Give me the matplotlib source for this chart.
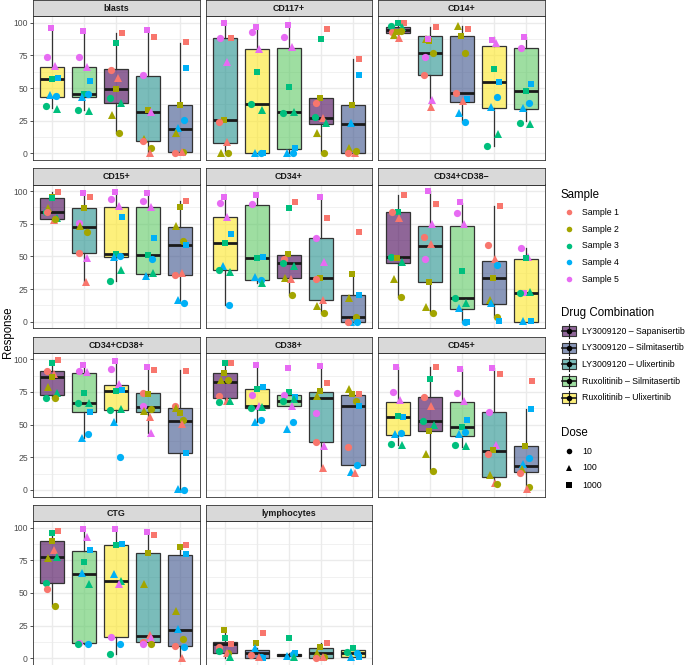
import matplotlib.pyplot as plt
from matplotlib.colors import to_rgba
from matplotlib.patches import Rectangle
import numpy as np

plt.rcParams['font.family'] = ['Liberation Sans', 'DejaVu Sans']

combos = ['LY3009120 – Sapanisertib', 'LY3009120 – Silmitasertib', 'LY3009120 – Ulixertinib',
          'Ruxolitinib – Silmitasertib', 'Ruxolitinib – Ulixertinib']
combo_colors = ['#440154', '#3B528B', '#21908C', '#5DC863', '#FDE725']
samples = ['Sample 1', 'Sample 2', 'Sample 3', 'Sample 4', 'Sample 5']
sample_colors = ['#F8766D', '#A3A500', '#00BF7D', '#00B0F6', '#E76BF3']
doses = [10, 100, 1000]
dose_markers = ['o', '^', 's']
panel_names = ['blasts', 'CD117+', 'CD14+', 'CD15+', 'CD34+', 'CD34+CD38−',
               'CD34+CD38+', 'CD38+', 'CD45+', 'CTG', 'lymphocytes']

# each panel: combo index per x slot, box stats [whislo, q1, med, q3, whishi], points (slot, sample, dose, value)
blasts_order = [4, 3, 0, 2, 1]
blasts_box = [[34.4, 43.4, 56.9, 66.3, 94.9], [33.2, 42.9, 45.4, 65.8, 93.1], [15.8, 38.5, 49.5, 64.3, 91.8],
              [0.0, 9.4, 31.4, 59.2, 93.9], [0.0, 1.3, 18.4, 36.7, 84.7]]
blasts_pts = [(1, 5, 1000, 95.7), (1, 5, 10, 73.5), (1, 5, 100, 67.1), (1, 3, 1000, 56.9), (1, 4, 1000, 57.4),
              (1, 4, 10, 44.1), (1, 4, 100, 44.5), (1, 3, 10, 36.2), (1, 3, 100, 33.7),
              (2, 5, 1000, 93.4), (2, 5, 10, 73.5), (2, 5, 100, 66.3), (2, 4, 1000, 55.4), (2, 3, 1000, 45.2),
              (2, 4, 10, 45.2), (2, 4, 100, 43.4), (2, 3, 100, 32.7), (2, 3, 10, 33.2),
              (3, 1, 1000, 91.8), (3, 3, 1000, 84.7), (3, 1, 10, 63.8), (3, 1, 100, 57.9), (3, 2, 1000, 49.2),
              (3, 3, 10, 42.6), (3, 3, 100, 38.8), (3, 2, 100, 29.3), (3, 2, 10, 15.8),
              (4, 5, 1000, 94.4), (4, 1, 1000, 89.3), (4, 5, 10, 59.7), (4, 2, 1000, 33.2), (4, 5, 100, 31.9),
              (4, 2, 100, 10.7), (4, 1, 10, 9.7), (4, 2, 10, 4.3), (4, 1, 100, 0.5),
              (5, 1, 1000, 85.5), (5, 4, 1000, 65.0), (5, 2, 1000, 37.0), (5, 4, 10, 25.5), (5, 4, 100, 19.1),
              (5, 2, 100, 15.8), (5, 2, 10, 1.3), (5, 1, 10, 0.0), (5, 1, 100, 0.8)]

cd117_order = [2, 4, 3, 0, 1]
cd117_box = [[0.0, 8.2, 25.5, 88.0, 100.0], [0.0, 0.0, 38.0, 79.6, 96.4], [0.0, 3.3, 31.4, 80.4, 98.5],
             [0.0, 22.4, 26.8, 42.6, 42.6], [0.0, 0.0, 22.4, 36.7, 71.9]]
cd117_pts = [(1, 5, 1000, 100.0), (1, 1, 1000, 88.5), (1, 5, 10, 88.5), (1, 5, 100, 70.2), (1, 2, 1000, 25.5),
             (1, 1, 10, 23.7), (1, 1, 100, 8.9), (1, 2, 100, 0.5), (1, 2, 10, 0.0),
             (2, 5, 1000, 96.4), (2, 5, 10, 92.9), (2, 5, 100, 80.1), (2, 3, 1000, 62.5), (2, 3, 10, 38.0),
             (2, 3, 100, 33.2), (2, 4, 10, 0.0), (2, 4, 100, 0.0), (2, 4, 1000, 0.0),
             (3, 5, 1000, 98.5), (3, 5, 10, 88.8), (3, 5, 100, 81.1), (3, 3, 1000, 50.5), (3, 3, 100, 31.4),
             (3, 3, 10, 30.6), (3, 4, 1000, 3.8), (3, 4, 10, 0.0), (3, 4, 100, 0.0),
             (4, 1, 1000, 94.9), (4, 3, 1000, 87.2), (4, 2, 1000, 42.6), (4, 1, 10, 38.3), (4, 3, 10, 27.6),
             (4, 1, 100, 26.8), (4, 3, 100, 23.0), (4, 2, 100, 15.8), (4, 2, 10, 0.0),
             (5, 1, 1000, 71.9), (5, 4, 1000, 59.9), (5, 2, 1000, 36.7), (5, 4, 100, 23.5), (5, 2, 100, 3.8),
             (5, 1, 10, 0.5), (5, 1, 100, 0.0), (5, 2, 10, 2.0)]

cd14_order = [0, 2, 1, 4, 3]
cd14_box = [[88.0, 92.3, 94.4, 96.9, 100.0], [35.7, 59.9, 76.5, 89.8, 96.9], [24.2, 39.5, 46.4, 89.8, 97.4],
            [5.9, 34.9, 54.3, 82.1, 88.8], [25.0, 33.7, 48.0, 80.4, 88.8]]
cd14_pts = [(1, 1, 1000, 100.0), (1, 3, 1000, 99.5), (1, 3, 10, 97.4), (1, 1, 10, 93.1), (1, 2, 1000, 93.1),
            (1, 2, 100, 90.6), (1, 1, 100, 88.0), (1, 3, 100, 96.9), (1, 2, 10, 93.9),
            (2, 1, 1000, 96.9), (2, 2, 1000, 86.2), (2, 2, 100, 87.2), (2, 5, 1000, 87.2), (2, 2, 10, 76.5),
            (2, 5, 10, 74.0), (2, 1, 10, 60.2), (2, 5, 100, 40.8), (2, 1, 100, 35.7),
            (3, 2, 100, 97.4), (3, 1, 1000, 95.2), (3, 2, 1000, 90.1), (3, 2, 10, 76.5), (3, 1, 10, 45.9),
            (3, 4, 1000, 41.3), (3, 1, 100, 40.3), (3, 4, 100, 30.6), (3, 4, 10, 24.2),
            (4, 5, 1000, 86.7), (4, 5, 100, 84.2), (4, 3, 1000, 64.3), (4, 4, 1000, 54.3), (4, 4, 10, 43.4),
            (4, 4, 100, 35.7), (4, 3, 100, 14.8), (4, 3, 10, 5.9),
            (5, 5, 1000, 88.8), (5, 5, 10, 80.9), (5, 4, 1000, 53.1), (5, 3, 1000, 48.0), (5, 4, 10, 38.3),
            (5, 4, 100, 34.4), (5, 3, 10, 23.0), (5, 3, 100, 22.4)]

cd15_order = [0, 2, 4, 3, 1]
cd15_box = [[77.8, 78.3, 84.2, 94.4, 99.5], [30.6, 52.3, 72.7, 87.2, 98.2], [31.4, 49.2, 51.5, 87.5, 99.0],
            [35.2, 36.2, 51.0, 87.5, 98.2], [14.8, 35.7, 58.4, 72.7, 92.6]]
cd15_pts = [(1, 1, 1000, 99.5), (1, 2, 1000, 95.7), (1, 3, 1000, 94.4), (1, 2, 100, 87.2), (1, 3, 10, 83.7),
            (1, 1, 10, 84.2), (1, 3, 100, 79.1), (1, 1, 100, 77.8), (1, 2, 10, 78.3),
            (2, 5, 1000, 98.2), (2, 1, 1000, 95.2), (2, 2, 1000, 87.2), (2, 5, 10, 75.3), (2, 2, 100, 73.2),
            (2, 2, 10, 68.9), (2, 1, 10, 52.3), (2, 5, 100, 49.0), (2, 1, 100, 30.6),
            (3, 5, 1000, 99.0), (3, 5, 10, 93.9), (3, 5, 100, 88.8), (3, 4, 1000, 80.4), (3, 3, 1000, 51.8),
            (3, 4, 10, 50.3), (3, 4, 100, 49.7), (3, 3, 100, 39.5), (3, 3, 10, 31.4),
            (4, 5, 1000, 98.2), (4, 5, 10, 92.3), (4, 5, 100, 88.0), (4, 4, 1000, 63.8), (4, 3, 1000, 51.0),
            (4, 4, 10, 48.2), (4, 3, 100, 37.0), (4, 4, 100, 35.2),
            (5, 1, 1000, 92.6), (5, 2, 1000, 88.0), (5, 2, 100, 73.2), (5, 2, 10, 62.0), (5, 4, 1000, 58.7),
            (5, 1, 100, 37.0), (5, 1, 10, 35.7), (5, 4, 100, 16.6), (5, 4, 10, 14.0)]

cd34_order = [4, 3, 0, 2, 1]
cd34_box = [[12.8, 39.5, 59.9, 79.8, 95.2], [29.3, 31.9, 48.5, 89.3, 97.4], [20.4, 33.2, 44.6, 51.0, 51.0],
            [6.9, 16.6, 33.2, 64.3, 95.7], [0.0, 0.0, 3.3, 20.4, 36.5]]
cd34_pts = [(1, 5, 1000, 95.2), (1, 5, 10, 91.1), (1, 5, 100, 80.4), (1, 4, 1000, 67.1), (1, 3, 1000, 59.9),
            (1, 4, 100, 42.6), (1, 3, 10, 39.5), (1, 3, 100, 38.0), (1, 4, 10, 12.8),
            (2, 5, 1000, 96.9), (2, 5, 10, 89.8), (2, 3, 1000, 49.0), (2, 4, 1000, 49.2), (2, 4, 100, 33.9),
            (2, 4, 10, 31.9), (2, 3, 100, 29.3),
            (3, 1, 1000, 91.8), (3, 3, 1000, 86.7), (3, 2, 1000, 51.5), (3, 1, 10, 48.2), (3, 3, 10, 44.6),
            (3, 3, 100, 42.6), (3, 2, 100, 33.7), (3, 1, 100, 32.4), (3, 2, 10, 20.4),
            (4, 5, 1000, 95.7), (4, 1, 1000, 79.1), (4, 5, 10, 64.3), (4, 5, 100, 45.9), (4, 2, 1000, 33.2),
            (4, 1, 10, 32.4), (4, 1, 100, 16.6), (4, 2, 100, 12.2), (4, 2, 10, 6.9),
            (5, 1, 1000, 68.4), (5, 2, 1000, 36.5), (5, 4, 1000, 20.4), (5, 2, 100, 17.9), (5, 2, 10, 3.3),
            (5, 4, 100, 0.0), (5, 4, 10, 0.0), (5, 1, 10, 0.0)]

cd34m_order = [0, 2, 3, 1, 4]
cd34m_box = [[19.1, 45.2, 49.2, 83.7, 97.0], [6.9, 30.6, 58.2, 73.5, 100.0], [0.0, 9.7, 18.4, 73.5, 91.1],
             [3.8, 13.3, 33.7, 46.7, 88.5], [0.0, 0.0, 22.2, 48.0, 56.1]]
cd34m_pts = [(1, 1, 1000, 96.9), (1, 3, 1000, 84.2), (1, 1, 10, 83.7), (1, 1, 100, 79.1), (1, 3, 10, 49.2),
             (1, 2, 1000, 49.0), (1, 3, 100, 45.9), (1, 2, 100, 32.4), (1, 2, 10, 19.1),
             (2, 5, 1000, 100.0), (2, 1, 1000, 89.8), (2, 5, 100, 74.5), (2, 1, 10, 65.0), (2, 1, 100, 59.2),
             (2, 5, 10, 48.2), (2, 2, 1000, 30.6), (2, 2, 100, 11.0), (2, 2, 10, 6.9),
             (3, 5, 1000, 91.6), (3, 5, 10, 82.9), (3, 5, 100, 74.7), (3, 3, 1000, 38.8), (3, 3, 10, 18.4),
             (3, 3, 100, 14.5), (3, 4, 100, 10.2), (3, 4, 1000, 0.0), (3, 4, 10, 0.0),
             (4, 1, 1000, 88.5), (4, 1, 10, 58.4), (4, 1, 100, 47.7), (4, 4, 10, 43.6), (4, 2, 1000, 33.7),
             (4, 2, 100, 16.6), (4, 4, 100, 14.5), (4, 2, 10, 3.8), (4, 4, 1000, 0.5),
             (5, 5, 10, 56.6), (5, 5, 100, 49.2), (5, 3, 1000, 48.5), (5, 5, 1000, 22.2), (5, 3, 10, 21.7),
             (5, 3, 100, 22.7), (5, 4, 100, 0.5), (5, 4, 1000, 0.3)]

cd34p_order = [0, 3, 4, 2, 1]
cd34p_box = [[70.2, 72.7, 86.7, 91.3, 99.5], [39.5, 59.9, 66.8, 89.8, 95.7], [52.3, 61.2, 75.8, 80.1, 99.0],
             [43.4, 59.9, 63.8, 74.0, 94.4], [0.0, 28.1, 53.1, 62.5, 91.8]]
cd34p_pts = [(1, 1, 1000, 99.5), (1, 3, 1000, 97.4), (1, 1, 10, 91.3), (1, 1, 100, 88.8), (1, 2, 1000, 86.7),
             (1, 2, 100, 79.1), (1, 3, 100, 74.0), (1, 2, 10, 70.2), (1, 3, 10, 70.2),
             (2, 5, 1000, 95.7), (2, 5, 10, 91.3), (2, 5, 100, 90.3), (2, 3, 1000, 74.2), (2, 3, 100, 66.8),
             (2, 3, 10, 66.8), (2, 4, 1000, 59.7), (2, 4, 10, 42.9), (2, 4, 100, 39.5),
             (3, 5, 1000, 99.0), (3, 5, 10, 92.9), (3, 5, 100, 81.1), (3, 4, 1000, 76.5), (3, 3, 1000, 75.8),
             (3, 3, 100, 61.7), (3, 3, 10, 61.2), (3, 4, 100, 52.3), (3, 4, 10, 25.0),
             (4, 5, 1000, 94.4), (4, 1, 1000, 91.8), (4, 1, 10, 74.0), (4, 2, 1000, 73.2), (4, 5, 10, 64.3),
             (4, 2, 10, 61.7), (4, 2, 100, 60.7), (4, 1, 100, 55.6), (4, 5, 100, 43.9),
             (5, 1, 1000, 91.3), (5, 1, 10, 64.3), (5, 2, 100, 63.0), (5, 2, 1000, 58.7), (5, 2, 10, 53.6),
             (5, 1, 100, 50.5), (5, 4, 1000, 28.1), (5, 4, 10, 0.0), (5, 4, 100, 0.5)]

cd38_order = [0, 4, 3, 2, 1]
cd38_box = [[67.6, 70.7, 82.9, 89.3, 97.4], [52.3, 62.5, 64.3, 77.0, 95.7], [64.3, 64.3, 68.4, 72.7, 74.7],
            [15.8, 37.0, 70.2, 75.3, 94.4], [18.9, 18.9, 64.5, 72.7, 74.5]]
cd38_pts = [(1, 1, 1000, 97.4), (1, 3, 1000, 97.4), (1, 2, 1000, 89.3), (1, 2, 100, 84.2), (1, 2, 10, 84.2),
            (1, 1, 10, 71.9), (1, 1, 100, 68.4), (1, 3, 10, 67.6), (1, 3, 100, 68.1),
            (2, 5, 1000, 95.7), (2, 4, 1000, 79.1), (2, 3, 1000, 77.0), (2, 5, 10, 72.7), (2, 5, 100, 64.3),
            (2, 3, 100, 63.3), (2, 3, 10, 62.5), (2, 4, 10, 53.6), (2, 4, 100, 52.3),
            (3, 5, 1000, 93.1), (3, 3, 1000, 74.7), (3, 5, 10, 72.7), (3, 4, 1000, 71.4), (3, 3, 10, 68.4),
            (3, 3, 100, 69.4), (3, 5, 100, 64.3), (3, 4, 10, 52.3), (3, 4, 100, 46.7),
            (4, 5, 1000, 94.9), (4, 1, 1000, 82.1), (4, 2, 1000, 76.0), (4, 2, 100, 71.9), (4, 5, 10, 58.7),
            (4, 1, 10, 37.0), (4, 5, 100, 33.7), (4, 1, 100, 16.6),
            (5, 2, 100, 77.0), (5, 2, 1000, 73.5), (5, 1, 1000, 73.5), (5, 2, 10, 68.4), (5, 4, 1000, 64.5),
            (5, 1, 10, 32.7), (5, 4, 10, 19.1), (5, 4, 100, 13.5), (5, 1, 100, 12.8)]

cd45_order = [4, 0, 3, 2, 1]
cd45_box = [[34.4, 42.1, 56.1, 67.6, 94.4], [14.8, 45.2, 53.1, 70.9, 93.9], [33.2, 41.6, 48.5, 67.3, 92.3],
            [5.1, 9.9, 29.8, 59.4, 93.1], [2.6, 13.5, 18.6, 33.7, 62.0]]
cd45_pts = [(1, 5, 1000, 94.4), (1, 5, 10, 75.0), (1, 5, 100, 68.9), (1, 4, 1000, 56.1), (1, 3, 1000, 56.9),
            (1, 4, 10, 43.9), (1, 4, 100, 42.9), (1, 3, 10, 35.2), (1, 3, 100, 34.2),
            (2, 1, 1000, 94.4), (2, 3, 1000, 85.2), (2, 1, 10, 71.2), (2, 1, 100, 64.3), (2, 3, 10, 53.1),
            (2, 3, 100, 49.5), (2, 2, 1000, 45.4), (2, 2, 100, 27.6), (2, 2, 10, 14.8),
            (3, 5, 1000, 92.3), (3, 5, 10, 74.5), (3, 5, 100, 67.9), (3, 4, 1000, 53.6), (3, 3, 1000, 48.5),
            (3, 4, 10, 44.6), (3, 4, 100, 42.9), (3, 3, 100, 33.7), (3, 3, 10, 34.2),
            (4, 5, 1000, 93.6), (4, 1, 1000, 88.8), (4, 5, 10, 59.9), (4, 5, 100, 34.4), (4, 2, 1000, 30.6),
            (4, 1, 10, 27.3), (4, 2, 100, 11.2), (4, 1, 100, 5.6), (4, 2, 10, 4.6),
            (5, 1, 1000, 83.4), (5, 4, 1000, 62.0), (5, 2, 1000, 33.7), (5, 4, 10, 24.7), (5, 4, 100, 19.6),
            (5, 2, 100, 15.8), (5, 1, 10, 13.3), (5, 2, 10, 2.0), (5, 1, 100, 0.8)]

ctg_order = [0, 3, 4, 2, 1]
ctg_box = [[40.3, 57.4, 77.6, 89.8, 97.7], [10.7, 11.5, 64.8, 82.4, 98.7], [3.3, 16.6, 59.2, 86.7, 99.0],
           [10.7, 12.2, 17.3, 80.9, 96.4], [0.0, 9.7, 21.4, 79.3, 86.2]]
ctg_pts = [(1, 1, 1000, 97.7), (1, 3, 1000, 96.2), (1, 2, 1000, 90.1), (1, 1, 100, 82.9), (1, 2, 100, 76.5),
           (1, 3, 100, 77.8), (1, 3, 10, 57.4), (1, 1, 10, 53.3), (1, 2, 10, 40.3),
           (2, 5, 1000, 99.0), (2, 5, 100, 92.6), (2, 4, 1000, 82.9), (2, 3, 1000, 74.0), (2, 4, 100, 65.6),
           (2, 3, 100, 56.9), (2, 5, 10, 11.5), (2, 4, 10, 10.7), (2, 3, 10, 10.7),
           (3, 5, 1000, 99.0), (3, 4, 1000, 87.5), (3, 3, 1000, 87.0), (3, 4, 100, 64.5), (3, 3, 100, 59.4),
           (3, 5, 100, 56.9), (3, 5, 10, 16.6), (3, 4, 10, 11.2), (3, 3, 10, 3.3),
           (4, 1, 1000, 94.4), (4, 5, 1000, 96.4), (4, 2, 1000, 80.9), (4, 2, 100, 56.6), (4, 1, 100, 17.9),
           (4, 5, 100, 15.8), (4, 1, 10, 12.2), (4, 5, 10, 11.0), (4, 2, 10, 11.0),
           (5, 1, 1000, 86.5), (5, 2, 1000, 85.5), (5, 4, 1000, 79.8), (5, 2, 100, 36.5), (5, 4, 100, 22.2),
           (5, 2, 10, 14.5), (5, 1, 10, 9.4), (5, 4, 10, 8.9), (5, 1, 100, 0.5)]

lymph_order = [0, 1, 3, 2, 4]
lymph_box = [[0.5, 3.8, 11.0, 12.2, 21.7], [0.5, 0.5, 3.8, 6.4, 8.0], [1.3, 2.0, 2.3, 3.3, 3.8],
             [0.5, 0.5, 3.8, 7.7, 11.5], [0.8, 0.8, 3.8, 6.4, 7.7]]
lymph_pts = [(1, 2, 1000, 21.7), (1, 3, 1000, 15.3), (1, 1, 1000, 11.0), (1, 1, 10, 8.9), (1, 3, 10, 5.6),
             (1, 2, 10, 3.8), (1, 1, 100, 4.3), (1, 3, 100, 0.8),
             (2, 1, 1000, 19.6), (2, 2, 1000, 11.5), (2, 4, 100, 7.7), (2, 1, 10, 2.6), (2, 4, 10, 0.8),
             (2, 4, 1000, 0.5), (2, 1, 100, 1.3),
             (3, 3, 1000, 15.3), (3, 4, 10, 3.3), (3, 4, 1000, 3.8), (3, 3, 100, 1.3), (3, 4, 100, 2.0),
             (4, 1, 1000, 11.5), (4, 2, 1000, 8.9), (4, 2, 100, 4.3), (4, 2, 10, 0.8), (4, 1, 10, 0.5),
             (4, 1, 100, 0.8),
             (5, 3, 1000, 7.7), (5, 4, 10, 3.8), (5, 4, 1000, 1.3), (5, 4, 100, 1.3), (5, 3, 10, 5.0)]

panel_data = {
    'blasts': (blasts_order, blasts_box, blasts_pts),
    'CD117+': (cd117_order, cd117_box, cd117_pts),
    'CD14+': (cd14_order, cd14_box, cd14_pts),
    'CD15+': (cd15_order, cd15_box, cd15_pts),
    'CD34+': (cd34_order, cd34_box, cd34_pts),
    'CD34+CD38−': (cd34m_order, cd34m_box, cd34m_pts),
    'CD34+CD38+': (cd34p_order, cd34p_box, cd34p_pts),
    'CD38+': (cd38_order, cd38_box, cd38_pts),
    'CD45+': (cd45_order, cd45_box, cd45_pts),
    'CTG': (ctg_order, ctg_box, ctg_pts),
    'lymphocytes': (lymph_order, lymph_box, lymph_pts),
}

W, H = 685, 665
fig = plt.figure(figsize=(W / 100, H / 100), dpi=100)

col_left = [33, 205.7, 378.3]
pw, ph, sh = 166.5, 143.7, 16
# fixed horizontal spread for the jittered points, indexed by sample*3 + dose
jit = np.array([-0.17, 0.05, 0.19, 0.10, -0.12, -0.02, -0.19, 0.15, 0.00,
                0.12, -0.07, 0.18, -0.15, 0.08, -0.04])
ms_map = [5.2, 5.6, 4.8]

for i, name in enumerate(panel_names):
    r, c = divmod(i, 3)
    top = 16.2 + 168.3 * r
    ax = fig.add_axes([col_left[c] / W, 1 - (top + ph) / H, pw / W, ph / H])
    order, box, pts = panel_data[name]
    stats = [dict(whislo=b[0], q1=b[1], med=b[2], q3=b[3], whishi=b[4], fliers=[]) for b in box]
    bp = ax.bxp(stats, positions=range(1, 6), widths=0.75, patch_artist=True, showfliers=False,
                showcaps=False,
                boxprops=dict(edgecolor='#333333', linewidth=0.9),
                whiskerprops=dict(color='#333333', linewidth=0.9),
                medianprops=dict(color='#1A1A1A', linewidth=2.0))
    for k, patch in enumerate(bp['boxes']):
        patch.set_facecolor(to_rgba(combo_colors[order[k]], 0.6))
    for p, s, d, v in pts:
        di = doses.index(d)
        ax.plot(p + jit[(s - 1) * 3 + di], v, marker=dose_markers[di], color=sample_colors[s - 1],
                ms=ms_map[di], ls='none', zorder=4, clip_on=False, markeredgewidth=0)
    ax.set_xlim(0.4, 5.6)
    ax.set_ylim(-5, 105)
    ax.set_xticks(range(1, 6))
    ax.set_yticks([0, 25, 50, 75, 100])
    ax.set_yticks([12.5, 37.5, 62.5, 87.5], minor=True)
    ax.set_axisbelow(True)
    ax.grid(True, which='major', color='#EBEBEB', linewidth=1.0)
    ax.grid(True, which='minor', axis='y', color='#EBEBEB', linewidth=0.5)
    ax.tick_params(axis='x', which='both', length=0, labelbottom=False)
    ax.tick_params(axis='y', which='minor', length=0)
    if c == 0:
        ax.tick_params(axis='y', which='major', length=2.2, width=0.6, color='#333333',
                       labelsize=6.2, labelcolor='#4D4D4D', pad=1.5)
    else:
        ax.tick_params(axis='y', which='major', length=0, labelleft=False)
    for sp in ax.spines.values():
        sp.set_color('#333333')
        sp.set_linewidth(0.6)
    # facet strip
    st = fig.add_axes([col_left[c] / W, 1 - top / H, pw / W, sh / H])
    st.set_facecolor('#D9D9D9')
    st.set_xticks([])
    st.set_yticks([])
    for sp in st.spines.values():
        sp.set_color('#333333')
        sp.set_linewidth(0.6)
    st.text(0.5, 0.47, name, ha='center', va='center', fontsize=6.4, color='#1A1A1A',
            fontweight='bold', transform=st.transAxes)

fig.text(8 / W, 1 - 332 / H, 'Response', rotation=90, ha='center', va='center', fontsize=8.3)

# legends, laid out in pixel coordinates
lg = fig.add_axes([0, 0, 1, 1])
lg.set_xlim(0, W)
lg.set_ylim(H, 0)
lg.axis('off')
tx, kx, lx = 561, 569, 582.5

lg.text(tx, 195, 'Sample', fontsize=8.3, va='center', ha='left')
for k, lab in enumerate(samples):
    y = 212.3 + 16.7 * k
    lg.plot(kx, y, 'o', color=sample_colors[k], ms=4.0, markeredgewidth=0)
    lg.text(lx, y, lab, fontsize=6.3, va='center', ha='left')

lg.text(tx, 313.3, 'Drug Combination', fontsize=8.3, va='center', ha='left')
for k, lab in enumerate(combos):
    y = 331 + 16.7 * k
    lg.plot([kx, kx], [y - 7, y + 7], color='#1A1A1A', lw=0.8)
    lg.add_patch(Rectangle((kx - 7, y - 5), 14, 10, facecolor=to_rgba(combo_colors[k], 0.6),
                           edgecolor='#333333', lw=0.8))
    lg.plot([kx - 7, kx + 7], [y, y], color='#1A1A1A', lw=1.2)
    lg.plot(kx, y, 'o', color='black', ms=4.0, markeredgewidth=0)
    lg.text(lx, y, lab, fontsize=6.3, va='center', ha='left')

lg.text(tx, 433.3, 'Dose', fontsize=8.3, va='center', ha='left')
for k, d in enumerate(doses):
    y = 451 + 17 * k
    lg.plot(kx, y, dose_markers[k], color='black', ms=[4.0, 4.4, 3.7][k], markeredgewidth=0)
    lg.text(lx, y, str(d), fontsize=6.3, va='center', ha='left')

fig.savefig('out.png', dpi=100)
